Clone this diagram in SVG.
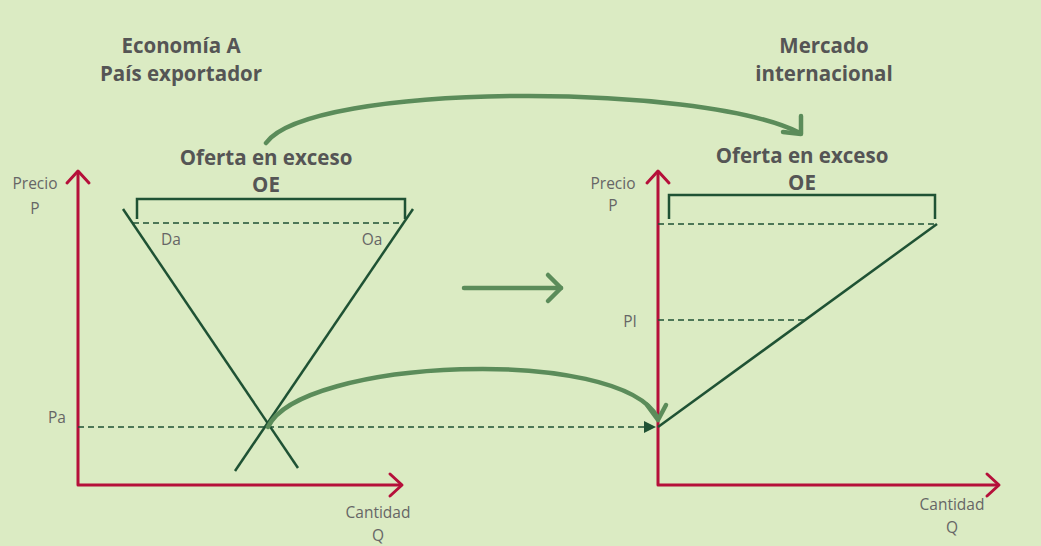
<svg xmlns="http://www.w3.org/2000/svg" width="1041" height="546" viewBox="0 0 1041 546">
<style>
.bg{fill:#dbebc3}
.axis{fill:none;stroke:#b5103a;stroke-width:3;stroke-linecap:round;stroke-linejoin:round}
.curve{fill:none;stroke:#1f5234;stroke-width:2.5}
.dash{fill:none;stroke:#1f5234;stroke-width:1.5;stroke-dasharray:6 4}
.brk{fill:none;stroke:#1f5234;stroke-width:2.5}
.flow{fill:none;stroke:#5b8c5a;stroke-width:4.5;stroke-linecap:round;stroke-linejoin:round}
.title{font-family:"Open Sans","Liberation Sans",sans-serif;font-weight:700;font-size:20.5px;fill:#555555;text-anchor:middle}
.lbl{font-family:"Open Sans","Liberation Sans",sans-serif;font-size:15.5px;fill:#666666;text-anchor:middle}
</style>
<defs>
<marker id="tri" viewBox="0 0 10 10" refX="10" refY="5" markerWidth="12" markerHeight="12" markerUnits="userSpaceOnUse" orient="auto">
<path d="M0,0 L10,5 L0,10 Z" fill="#1f5234"/>
</marker>
</defs>
<rect class="bg" x="0" y="0" width="1041" height="546"/>

<g id="titles">
<text class="title" x="181" y="53">Economía A</text>
<text class="title" x="181" y="81">País exportador</text>
<text class="title" x="824" y="53">Mercado</text>
<text class="title" x="824" y="81">internacional</text>
</g>

<g id="left-chart">
<polyline class="axis" points="78,172 78,485 401,485"/>
<polyline class="axis" points="67,183 78,171 89,183"/>
<polyline class="axis" points="390,474 402,485 390,496"/>
<text class="lbl" x="35" y="189">Precio</text>
<text class="lbl" x="35" y="214">P</text>
<text class="lbl" x="378" y="518">Cantidad</text>
<text class="lbl" x="378" y="541">Q</text>
<text class="lbl" x="57" y="423">Pa</text>
<line class="curve" x1="123" y1="209" x2="298" y2="468"/>
<line class="curve" x1="235" y1="471" x2="413" y2="209"/>
<line class="dash" x1="133" y1="223" x2="404" y2="223"/>
<polyline class="brk" points="137,219 137,199 405,199 405,219"/>
<text class="lbl" x="171" y="245">Da</text>
<text class="lbl" x="372" y="245">Oa</text>
<text class="title" x="266" y="165">Oferta en exceso</text>
<text class="title" x="266" y="192">OE</text>
</g>

<g id="right-chart">
<polyline class="axis" points="658,172 658,485 998,485"/>
<polyline class="axis" points="647,183 658,171 669,183"/>
<polyline class="axis" points="987,474 999,485 987,496"/>
<text class="lbl" x="613" y="189">Precio</text>
<text class="lbl" x="613" y="211">P</text>
<text class="lbl" x="952" y="510">Cantidad</text>
<text class="lbl" x="952" y="533">Q</text>
<text class="lbl" x="630" y="327">PI</text>
<line class="curve" x1="658" y1="427" x2="937" y2="224"/>
<line class="dash" x1="658" y1="224" x2="937" y2="224"/>
<line class="dash" x1="658" y1="320" x2="805" y2="320"/>
<polyline class="brk" points="669,219 669,195 935,195 935,219"/>
<text class="title" x="802" y="163">Oferta en exceso</text>
<text class="title" x="802" y="190">OE</text>
</g>

<g id="connectors">
<line class="dash" x1="78" y1="427" x2="656" y2="427" marker-end="url(#tri)"/>
<path class="flow" d="M266,143 C310,82 700,82 800,133"/>
<polyline class="flow" points="801,116 801,134 783,132"/>
<line class="flow" x1="464" y1="288" x2="561" y2="288"/>
<polyline class="flow" points="548,275 561,288 548,301"/>
<path class="flow" d="M268,427 C300,358 620,345 658,418"/>
<polyline class="flow" points="647,405 658,420 666,405"/>
</g>
</svg>
